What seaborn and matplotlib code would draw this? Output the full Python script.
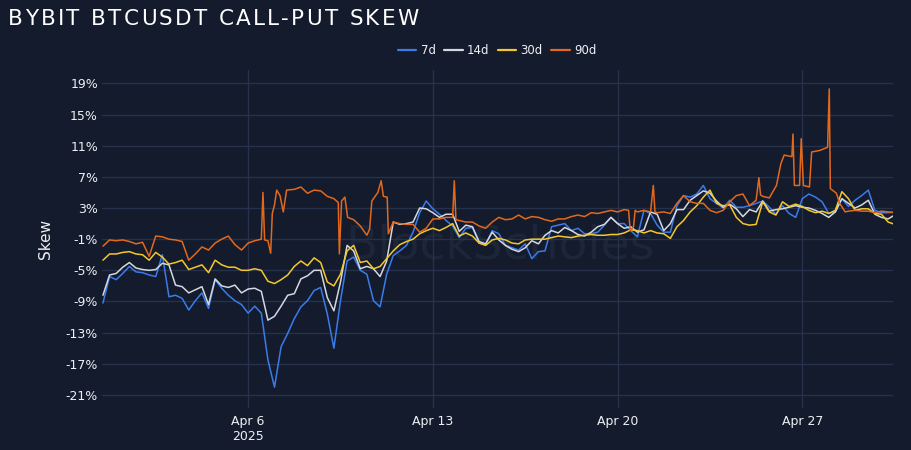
import numpy as np
import pandas as pd
import matplotlib
matplotlib.use("Agg")
import matplotlib.pyplot as plt
import seaborn as sns

# 6-hourly readings starting 2025-03-31 12:00
start = "2025-03-31 12:00"

skew_7d = [
    -9.2, -5.8, -6.2, -5.4, -4.5, -5.2, -5.3, -5.6, -5.8, -3.0,
    -8.4, -8.2, -8.6, -10.1, -8.9, -7.9, -9.9, -6.2, -7.3, -8.2,
    -8.9, -9.4, -10.5, -9.6, -10.5, -16.5, -20.0, -14.8, -13.1, -11.2,
    -9.7, -8.9, -7.6, -7.2, -10.6, -15.0, -8.9, -3.8, -3.3, -5.0,
    -5.5, -8.9, -9.7, -5.5, -3.1, -2.5, -1.8, -0.1, 2.4, 3.9,
    2.9, 2.2, 1.4, 0.7, -0.8, 0.4, 0.5, -1.5, -1.7, 0.1,
    -0.3, -1.8, -2.1, -2.4, -1.6, -3.5, -2.6, -2.5, 0.6, 0.8,
    1.0, 0.1, 0.4, -0.3, -0.3, -0.1, 0.8, 1.8, 1.0, 1.0,
    0.1, -0.7, 2.7, 2.3, 0.8, -0.1, -0.1, 3.3, 4.6, 4.4,
    4.8, 5.9, 4.2, 3.6, 3.0, 4.0, 3.1, 3.1, 3.3, 3.6,
    3.9, 3.1, 2.2, 3.3, 2.3, 1.8, 4.2, 4.8, 4.4, 3.8,
    2.3, 2.5, 4.2, 3.2, 4.0, 4.6, 5.3, 2.7, 2.4, 2.4, 2.5,
]

skew_14d = [
    -8.2, -5.6, -5.4, -4.6, -4.0, -4.7, -4.9, -5.0, -4.9, -4.1,
    -4.3, -6.9, -7.1, -7.9, -7.5, -7.1, -9.4, -6.1, -7.0, -7.2,
    -6.9, -7.9, -7.4, -7.3, -7.7, -11.4, -10.9, -9.6, -8.2, -8.0,
    -6.1, -5.7, -5.0, -5.0, -8.5, -10.2, -6.5, -1.8, -2.5, -4.8,
    -4.5, -4.8, -5.8, -3.8, 1.2, 0.9, 1.0, 1.2, 3.0, 2.9,
    2.4, 1.8, 2.2, 2.2, 0.0, 0.8, 0.6, -1.3, -1.6, -0.1,
    -1.1, -1.8, -2.3, -2.6, -2.1, -1.2, -1.6, -0.5, 0.1, -0.2,
    0.5, 0.1, -0.4, -0.6, -0.1, 0.6, 0.9, 1.8, 1.0, 0.4,
    0.6, -0.1, 0.2, 2.5, 2.2, 0.1, 1.0, 2.8, 2.8, 4.0,
    4.6, 5.2, 4.9, 3.9, 3.1, 3.5, 2.9, 1.9, 2.8, 2.5,
    3.9, 2.6, 2.8, 2.9, 3.1, 3.3, 3.1, 3.0, 2.7, 2.3,
    1.8, 2.5, 4.2, 3.6, 3.0, 3.4, 4.0, 2.2, 1.8, 1.6, 2.1,
]

skew_30d = [
    -3.7, -2.9, -2.9, -2.7, -2.6, -2.9, -3.0, -3.7, -2.7, -3.3,
    -4.2, -4.0, -3.7, -4.9, -4.6, -4.3, -5.3, -3.7, -4.3, -4.6,
    -4.6, -5.0, -5.0, -4.8, -5.0, -6.4, -6.7, -6.2, -5.6, -4.5,
    -3.8, -4.4, -3.4, -4.0, -6.5, -7.0, -5.5, -2.5, -1.8, -4.0,
    -3.8, -4.8, -4.5, -3.5, -2.5, -1.7, -1.3, -1.0, -0.3, 0.1,
    0.4, 0.1, 0.5, 1.0, -0.6, -0.2, -0.6, -1.5, -1.8, -1.1,
    -0.9, -1.1, -1.5, -1.6, -1.1, -1.0, -1.0, -1.0, -0.8, -0.6,
    -0.7, -0.8, -0.6, -0.5, -0.4, -0.5, -0.5, -0.4, -0.4, -0.2,
    0.2, 0.1, -0.2, 0.1, -0.2, -0.3, -0.9, 0.6, 1.4, 2.5,
    3.3, 4.4, 5.3, 3.6, 3.3, 3.4, 1.8, 1.0, 0.8, 0.9,
    3.8, 2.5, 2.1, 3.8, 3.2, 3.5, 3.2, 2.7, 2.4, 2.6,
    2.3, 2.7, 5.1, 4.2, 2.7, 2.9, 2.9, 2.3, 2.2, 1.2, 0.9,
]

# 90d has sharp spikes, so it keeps its own (hours since start) readings
hours_90d = [
    0, 6, 12, 18, 24, 30, 36, 42, 48, 54, 60, 66, 72, 78, 84, 90, 96, 102,
    108, 114, 120, 126, 132, 138, 144, 145.5, 147, 150, 152.5, 154, 156, 158,
    161, 164, 167, 174, 180, 186, 192, 198, 204, 210, 214, 215, 217, 220,
    222.5, 228, 234, 240, 242.5, 244.5, 246, 250, 253, 255, 258.5, 259.5,
    264, 270, 276, 282, 288, 294, 300, 306, 312, 318, 319.5, 321, 324, 330,
    336, 342, 348, 354, 360, 366, 372, 378, 384, 390, 396, 402, 408, 414,
    420, 426, 432, 438, 444, 450, 456, 462, 468, 474, 478, 479.5, 482.5,
    484, 486, 492, 498, 500.5, 502, 504, 510, 516, 522, 528, 534, 540, 546,
    552, 558, 564, 570, 576, 582, 588, 594, 596.5, 598, 600, 606, 612.5,
    616.5, 619.5, 626.5, 627.5, 628.8, 633.5, 635, 637, 642.5, 644.5, 652,
    659, 660.5, 661.5, 667, 670, 675, 678, 684, 690, 696, 702, 708, 714, 720,
]
skew_90d = [
    -1.9, -1.1, -1.2, -1.1, -1.3, -1.6, -1.4, -3.2, -0.6, -0.7, -1.0, -1.1, -1.3, -3.7, -2.9, -2.0, -2.4, -1.5,
    -1.0, -0.6, -1.7, -2.4, -1.5, -1.2, -1.0, 5.0, -1.1, -1.2, -2.8, 2.3, 3.4, 5.3,
    4.6, 2.5, 5.3, 5.4, 5.7, 4.9, 5.3, 5.2, 4.5, 4.2, 3.7, -2.9, 3.9, 4.4,
    1.8, 1.5, 0.7, -0.5, 0.3, 3.9, 4.2, 5.0, 6.5, 4.5, 4.4, -0.3,
    1.2, 1.0, 0.9, 0.9, -0.1, 0.4, 1.6, 1.6, 1.8, 1.8, 6.5, 1.5, 1.4, 1.2,
    1.2, 0.7, 0.4, 1.2, 1.8, 1.5, 1.6, 2.1, 1.6, 1.9, 1.8, 1.5, 1.3, 1.6,
    1.6, 1.9, 2.1, 1.9, 2.4, 2.3, 2.5, 2.7, 2.5, 2.8, 2.7, 0.1, 0.6,
    2.7, 2.5, 2.7, 2.5, 5.9, 2.5, 2.4, 2.5, 2.3, 3.6, 4.6, 3.8, 3.6, 3.6,
    2.7, 2.4, 2.7, 3.8, 4.6, 4.8, 3.3, 4.0, 6.9, 4.7, 4.5, 4.3, 5.9,
    8.7, 9.8, 9.6, 12.5, 5.9, 5.9, 11.9, 5.9, 5.7, 10.2, 10.4,
    10.8, 18.3, 5.5, 4.9, 3.6, 2.5, 2.6, 2.7, 2.6, 2.6, 2.4, 2.6, 2.5, 2.4,
]

series_names = ["7d", "14d", "30d", "90d"]
colors = ["#3b7bea", "#d5d8de", "#f4c82c", "#e2691c"]
y_ticks = [19, 15, 11, 7, 3, -1, -5, -9, -13, -17, -21]
x_ticks = ["2025-04-06", "2025-04-13", "2025-04-20", "2025-04-27"]
x_labels = ["Apr 6\n2025", "Apr 13", "Apr 20", "Apr 27"]
title = "BYBIT BTCUSDT CALL-PUT SKEW"

bg = "#131b2d"
grid_c = "#26314b"
txt = "#eef0f4"

grid_time = pd.date_range(start, periods=len(skew_7d), freq="6h")
frames = []
for name, vals in zip(series_names[:3], [skew_7d, skew_14d, skew_30d]):
    frames.append(pd.DataFrame({"time": grid_time, "skew": vals, "tenor": name}))
frames.append(pd.DataFrame({"time": pd.Timestamp(start) + pd.to_timedelta(hours_90d, unit="h"),
                            "skew": skew_90d, "tenor": "90d"}))
df = pd.concat(frames, ignore_index=True)

sns.set_style("dark")
plt.rcParams["font.family"] = ["DejaVu Sans"]

fig = plt.figure(figsize=(9.12, 4.5), dpi=100, facecolor=bg)
ax = fig.add_axes([0.112, 0.093, 0.867, 0.751])
ax.set_facecolor(bg)

sns.lineplot(data=df, x="time", y="skew", hue="tenor", hue_order=series_names,
             palette=dict(zip(series_names, colors)), estimator=None, sort=True,
             linewidth=1.1, ax=ax, legend=False)

ax.set_xlim(pd.Timestamp("2025-03-31 11:15"), pd.Timestamp("2025-04-30 10:20"))
ax.set_ylim(-22.7, 20.7)
ax.set_yticks(y_ticks)
ax.set_yticklabels([f"{t}%" for t in y_ticks])
ax.set_xticks(pd.to_datetime(x_ticks))
ax.set_xticklabels(x_labels)
ax.tick_params(colors=txt, labelsize=9, length=0)
ax.tick_params(axis="y", pad=3)
ax.tick_params(axis="x", pad=5)
ax.grid(True, color=grid_c, linewidth=1.0)
ax.set_axisbelow(True)
for s in ax.spines.values():
    s.set_visible(False)
ax.set_xlabel("")
ax.set_ylabel("Skew", color=txt, fontsize=11, labelpad=9)

ax.text(0.503, 0.48, "BlockScholes", transform=ax.transAxes, ha="center", va="center",
        fontsize=34, color="#1d2538", zorder=0)

# title with letter spacing
renderer = fig.canvas.get_renderer()
x_px = 8
for ch in title:
    t = fig.text(x_px / 912, 0.957, ch, color="white", fontsize=15.5, ha="left", va="center")
    x_px += t.get_window_extent(renderer).width + 2.3

handles = [plt.Line2D([], [], color=c, linewidth=1.6) for c in colors]
leg = fig.legend(handles, series_names, loc="center", bbox_to_anchor=(0.545, 0.887), ncol=4,
                 frameon=False, fontsize=8.5, handlelength=1.6, handletextpad=0.35,
                 columnspacing=0.7)
for t in leg.get_texts():
    t.set_color(txt)

fig.savefig("out.png", dpi=100, facecolor=bg)
